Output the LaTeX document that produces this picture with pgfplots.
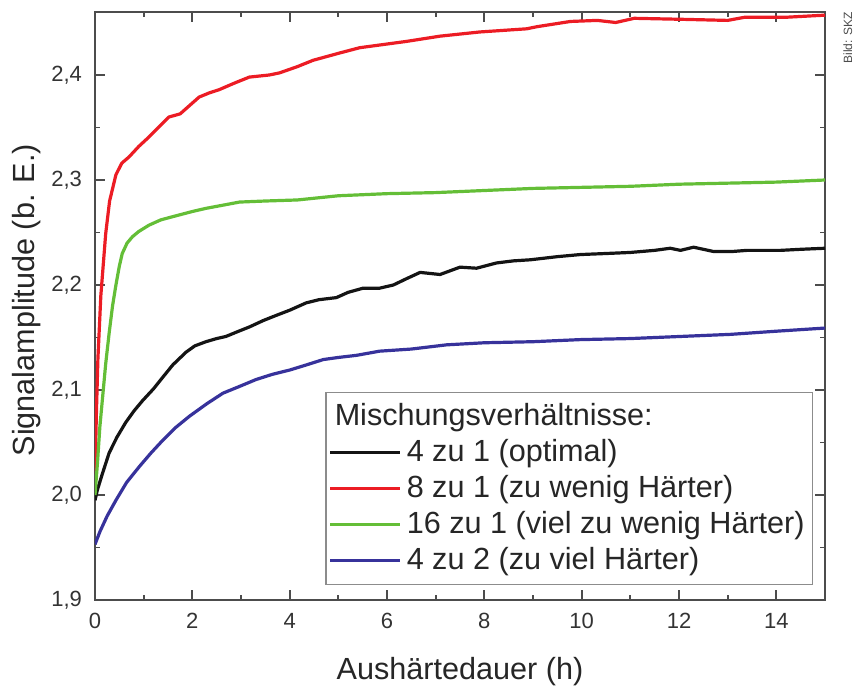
\documentclass[border=0pt]{standalone}
\usepackage{fontspec}
\setmainfont{Liberation Sans}
\usepackage{pgfplots}
\pgfplotsset{compat=1.18}

\definecolor{cRed}{RGB}{236,28,36}
\definecolor{cGreen}{RGB}{100,190,55}
\definecolor{cBlue}{RGB}{55,50,155}
\definecolor{cBlack}{RGB}{20,20,20}

\begin{document}
\begin{tikzpicture}
\begin{axis}[
  name=ax, at={(0,0)}, anchor=south west,
  scale only axis, width=365pt, height=294pt,
  xmin=0, xmax=15, ymin=1.9, ymax=2.46,
  xtick={0,2,4,6,8,10,12,14},
  ytick={1.9,2.0,2.1,2.2,2.3,2.4},
  minor x tick num=1, minor y tick num=1,
  tick align=inside, major tick length=5pt, minor tick length=2.5pt,
  axis line style={draw=black!70, line width=1pt},
  every tick/.style={black!70, line width=0.9pt},
  tick label style={font=\fontsize{11}{13}\selectfont, text=black!80},
  /pgf/number format/assume math mode=true,
  /pgf/number format/use comma,
  yticklabel style={/pgf/number format/fixed, /pgf/number format/fixed zerofill, /pgf/number format/precision=1, xshift=-3pt},
  xticklabel style={yshift=-3pt},
  label style={font=\fontsize{15.3}{18}\selectfont, text=black!85},
  xlabel={Aushärtedauer (h)},
  ylabel={Signalamplitude (b. E.)},
  xlabel style={at={(axis description cs:0.5,-0.136)}, anchor=base},
  ylabel style={at={(axis description cs:-0.0822,0.51)}, anchor=base},
  legend style={at={(0.984,0.0255)}, anchor=south east, draw=black!45, line width=0.6pt,
    fill=white, font=\fontsize{15.3}{18}\selectfont, text=black!85, inner xsep=1.5pt, inner ysep=3pt, row sep=0pt,
    nodes={inner xsep=2.5pt, inner ysep=0pt, text height=13.5pt, text depth=4.5pt}},
  legend cell align=left,
  legend image code/.code={\draw[#1, line width=1.4pt] (0pt,0pt) -- (35pt,0pt);},
  every axis plot/.append style={line width=1.6pt, line join=round},
]
\addlegendimage{empty legend}
\addlegendentry{\hspace{-36pt}Mischungsverhältnisse:}

\addplot[cBlack] coordinates {
(0,1.995) (0.05,2.005) (0.15,2.02) (0.29,2.04) (0.45,2.055) (0.63,2.069) (0.8,2.08)
(0.98,2.09) (1.2,2.101) (1.39,2.112) (1.6,2.124) (1.87,2.136) (2.05,2.142) (2.28,2.146)
(2.5,2.149) (2.69,2.151) (2.9,2.155) (3.17,2.16) (3.45,2.166) (3.72,2.171) (4.0,2.176)
(4.34,2.183) (4.6,2.186) (4.96,2.188) (5.2,2.193) (5.51,2.197) (5.85,2.197) (6.13,2.2)
(6.4,2.206) (6.68,2.212) (7.09,2.21) (7.5,2.217) (7.84,2.216) (8.25,2.221) (8.6,2.223)
(8.94,2.224) (9.5,2.227) (9.97,2.229) (10.5,2.23) (11.0,2.231) (11.5,2.233) (11.82,2.235)
(12.03,2.233) (12.3,2.236) (12.7,2.232) (13.12,2.232) (13.4,2.233) (14.09,2.233) (14.5,2.234) (15,2.235)
};
\addlegendentry{4 zu 1 (optimal)}

\addplot[cRed] coordinates {
(0,2.02) (0.03,2.08) (0.06,2.13) (0.12,2.19) (0.22,2.249) (0.3,2.28) (0.43,2.305)
(0.55,2.316) (0.7,2.322) (0.9,2.332) (1.11,2.341) (1.3,2.35) (1.52,2.36) (1.75,2.363)
(2.14,2.379) (2.35,2.383) (2.55,2.386) (2.85,2.392) (3.17,2.398) (3.58,2.4) (3.79,2.402)
(4.16,2.408) (4.48,2.414) (5.03,2.421) (5.44,2.426) (6.4,2.432) (7.09,2.437) (7.91,2.441)
(8.87,2.444) (9.08,2.446) (9.77,2.451) (10.32,2.452) (10.7,2.45) (11.08,2.454) (12.1,2.453)
(13,2.452) (13.35,2.455) (14.2,2.455) (15,2.457)
};
\addlegendentry{8 zu 1 (zu wenig Härter)}

\addplot[cGreen] coordinates {
(0,2.0) (0.05,2.03) (0.1,2.065) (0.15,2.09) (0.22,2.125) (0.29,2.154) (0.36,2.18)
(0.43,2.2) (0.5,2.218) (0.56,2.23) (0.66,2.24) (0.77,2.246) (0.9,2.251) (1.11,2.257)
(1.35,2.262) (1.59,2.265) (2.0,2.27) (2.28,2.273) (2.97,2.279) (3.5,2.28) (4.16,2.281)
(5,2.285) (6,2.287) (7,2.288) (8,2.29) (9,2.292) (10,2.293) (11,2.294) (12,2.296)
(13,2.297) (14,2.298) (15,2.3)
};
\addlegendentry{16 zu 1 (viel zu wenig Härter)}

\addplot[cBlue] coordinates {
(0,1.953) (0.1,1.965) (0.25,1.98) (0.43,1.995) (0.65,2.012) (0.91,2.027) (1.15,2.04)
(1.39,2.052) (1.65,2.064) (1.94,2.075) (2.3,2.087) (2.63,2.097) (3.0,2.104) (3.31,2.11)
(3.65,2.115) (4.0,2.119) (4.35,2.124) (4.69,2.129) (5.0,2.131) (5.37,2.133) (5.85,2.137)
(6.5,2.139) (7.22,2.143) (8,2.145) (9,2.146) (9.97,2.148) (11,2.149) (12.03,2.151)
(13.06,2.153) (14,2.156) (15,2.159)
};
\addlegendentry{4 zu 2 (zu viel Härter)}
\end{axis}
\path (ax.north east) ++(13.5pt,0pt) node[rotate=90, anchor=base east, inner sep=0pt,
  font=\fontsize{6}{7}\selectfont, text=black!70] {Bild: SKZ};
\pgfresetboundingbox
\path[use as bounding box] (ax.south west) ++(-47.5pt,-43.5pt) rectangle ++(427.5pt,343.5pt);
\end{tikzpicture}
\end{document}
